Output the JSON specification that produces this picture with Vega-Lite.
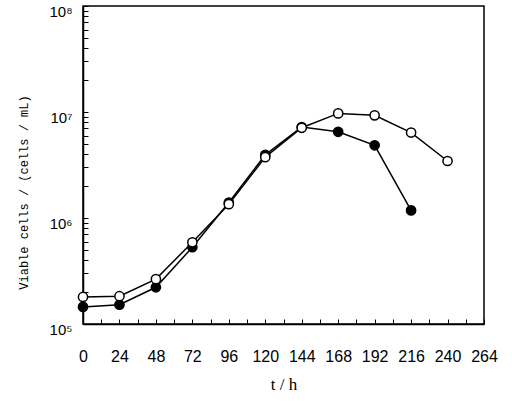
{
  "$schema": "https://vega.github.io/schema/vega-lite/v6.json",
  "autosize": "none",
  "width": 401,
  "height": 318,
  "padding": {"left": 83, "top": 6, "right": 28, "bottom": 77},
  "background": "white",
  "config": {
    "view": {"stroke": "black", "strokeWidth": 1.5},
    "axis": {"grid": false, "domainColor": "black", "domainWidth": 1.5, "tickColor": "black", "labelColor": "black", "titleColor": "black", "labelFont": "Liberation Sans", "labelFontSize": 16, "titleFont": "Liberation Serif", "titleFontSize": 17, "titleFontWeight": "normal"}
  },
  "data": {
    "values": [
      {"t": 0, "cells": 180000, "series": "open"},
      {"t": 24, "cells": 183000, "series": "open"},
      {"t": 48, "cells": 265000, "series": "open"},
      {"t": 72, "cells": 590000, "series": "open"},
      {"t": 96, "cells": 1350000, "series": "open"},
      {"t": 120, "cells": 3750000, "series": "open"},
      {"t": 144, "cells": 7100000, "series": "open"},
      {"t": 168, "cells": 9700000, "series": "open"},
      {"t": 192, "cells": 9300000, "series": "open"},
      {"t": 216, "cells": 6400000, "series": "open"},
      {"t": 240, "cells": 3450000, "series": "open"},
      {"t": 0, "cells": 145000, "series": "filled"},
      {"t": 24, "cells": 152000, "series": "filled"},
      {"t": 48, "cells": 222000, "series": "filled"},
      {"t": 72, "cells": 530000, "series": "filled"},
      {"t": 96, "cells": 1400000, "series": "filled"},
      {"t": 120, "cells": 3950000, "series": "filled"},
      {"t": 144, "cells": 7200000, "series": "filled"},
      {"t": 168, "cells": 6500000, "series": "filled"},
      {"t": 192, "cells": 4850000, "series": "filled"},
      {"t": 216, "cells": 1180000, "series": "filled"}
    ]
  },
  "encoding": {
    "x": {
      "field": "t", "type": "quantitative",
      "scale": {"domain": [0, 264], "nice": false, "zero": false},
      "axis": {
        "title": "t / h",
        "values": [0,12,24,36,48,60,72,84,96,108,120,132,144,156,168,180,192,204,216,228,240,252,264],
        "labelExpr": "datum.value % 24 == 0 ? datum.label : ''",
        "tickSize": -5, "labelPadding": 29, "titlePadding": 12, "labelFlush": false
      }
    },
    "y": {
      "field": "cells", "type": "quantitative",
      "scale": {"type": "log", "domain": [100000, 100000000], "nice": false},
      "axis": {
        "title": "Viable cells / (cells / mL)",
        "titleFont": "Liberation Mono", "titleFontSize": 12, "titleY": 186, "titlePadding": 18,
        "values": [100000,200000,300000,400000,500000,600000,700000,800000,900000,1000000,2000000,3000000,4000000,5000000,6000000,7000000,8000000,9000000,10000000,20000000,30000000,40000000,50000000,60000000,70000000,80000000,90000000,100000000],
        "labelExpr": "datum.value == 100000 ? '10⁵' : datum.value == 1000000 ? '10⁶' : datum.value == 10000000 ? '10⁷' : datum.value == 100000000 ? '10⁸' : ''",
        "labelFontSize": 15, "labelOffset": 5,
        "tickSize": -5, "labelPadding": 16, "labelFlush": false
      }
    }
  },
  "layer": [
    {
      "mark": {"type": "line", "color": "black", "strokeWidth": 1.5},
      "encoding": {"detail": {"field": "series"}}
    },
    {
      "transform": [{"filter": "datum.series == 'filled'"}],
      "mark": {"type": "point", "shape": "circle", "filled": true, "fill": "black", "stroke": "black", "strokeWidth": 1.5, "size": 85, "opacity": 1}
    },
    {
      "transform": [{"filter": "datum.series == 'open'"}],
      "mark": {"type": "point", "shape": "circle", "filled": true, "fill": "white", "stroke": "black", "strokeWidth": 1.5, "size": 85, "opacity": 1}
    }
  ]
}
